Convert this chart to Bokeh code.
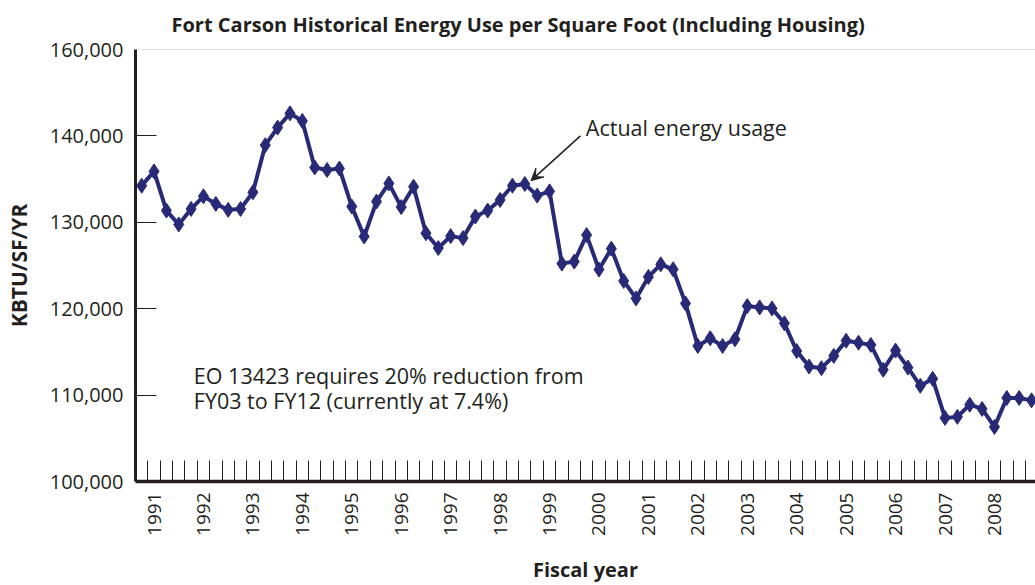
import math
from bokeh.plotting import figure
from bokeh.models import Range1d, FixedTicker, Label, Arrow, VeeHead, Span
from bokeh.embed import file_html
from bokeh.resources import INLINE

TEXT = "#231f20"
LINE = "#282a78"
FONT = "Open Sans"

# Quarterly energy use per square foot, FY1991 Q1 onward (KBTU/SF/YR)
start_year = 1991
kbtu = [
    134240, 135890, 131360, 129750, 131550, 133010, 132130, 131440,
    131550, 133470, 138930, 140960, 142610, 141730, 136350, 136050,
    136230, 131820, 128360, 132400, 134500, 131760, 134120, 128740,
    127020, 128400, 128170, 130670, 131360, 132590, 134240, 134440,
    133090, 133580, 125220, 125450, 128520, 124530, 126950, 123210,
    121190, 123680, 125140, 124560, 120610, 115690, 116580, 115690,
    116460, 120300, 120150, 120030, 118310, 115100, 113310, 113120,
    114540, 116300, 116070, 115810, 112930, 115150, 113190, 111080,
    111890, 107360, 107480, 108890, 108400, 106320, 109670, 109670,
    109390,
]
years = list(range(1991, 2009))
y_ticks = [100000, 110000, 120000, 130000, 140000, 150000]
y_labels = ["100,000", "110,000", "120,000", "130,000", "140,000", "160,000"]
title_text = "Fort Carson Historical Energy Use per Square Foot (Including Housing)"

x = [start_year + (i + 0.5) / 4 for i in range(len(kbtu))]

p = figure(width=1035, height=585, output_backend="svg", toolbar_location=None,
           x_range=Range1d(1991, 2009.205), y_range=Range1d(100000, 150000),
           min_border_left=135, min_border_right=0, min_border_top=48,
           min_border_bottom=103)

p.outline_line_color = None
p.xgrid.visible = False
p.ygrid.visible = False
p.background_fill_color = "white"
p.border_fill_color = "white"

# Title
p.title.text = title_text
p.title.align = "left"
p.title.offset = 36
p.title.text_font = FONT
p.title.text_font_size = "20px"
p.title.text_font_style = "bold"
p.title.text_color = TEXT
p.title.vertical_align = "top"
p.title.standoff = 20

# X axis
xa = p.xaxis[0]
label_pos = [yr + 0.375 for yr in years]
xa.ticker = FixedTicker(ticks=label_pos,
                        minor_ticks=[start_year + q / 4 for q in range(1, 73)])
xa.major_label_overrides = {pos: str(yr) for pos, yr in zip(label_pos, years)}
xa.axis_line_width = 3.5
xa.axis_line_color = TEXT
xa.major_tick_in = 0
xa.major_tick_out = 0
xa.minor_tick_in = 21
xa.minor_tick_out = 0
xa.minor_tick_line_color = TEXT
xa.minor_tick_line_width = 1
xa.major_label_orientation = math.pi / 2
xa.major_label_standoff = 11
xa.major_label_text_font = FONT
xa.major_label_text_font_size = "19px"
xa.major_label_text_color = TEXT
xa.axis_label = "Fiscal year"
xa.axis_label_text_font = FONT
xa.axis_label_text_font_size = "20px"
xa.axis_label_text_font_style = "bold"
xa.axis_label_text_color = TEXT
xa.axis_label_standoff = 17

# Y axis
ya = p.yaxis[0]
ya.ticker = FixedTicker(ticks=y_ticks, minor_ticks=y_ticks[1:-1])
ya.major_label_overrides = dict(zip(y_ticks, y_labels))
ya.axis_line_width = 3
ya.axis_line_color = TEXT
ya.major_tick_in = 0
ya.major_tick_out = 0
ya.minor_tick_in = 21
ya.minor_tick_out = 0
ya.minor_tick_line_color = TEXT
ya.minor_tick_line_width = 1
ya.major_label_standoff = 12
ya.major_label_text_font = FONT
ya.major_label_text_font_size = "20px"
ya.major_label_text_color = TEXT
ya.axis_label = "KBTU/SF/YR"
ya.axis_label_text_font = FONT
ya.axis_label_text_font_size = "21px"
ya.axis_label_text_font_style = "bold"
ya.axis_label_text_color = TEXT
ya.axis_label_standoff = 14

# Top border line
p.add_layout(Span(location=150000, dimension="width", line_color="#8a8a8a",
                  line_width=1, line_dash="1 1"))

# Data
p.line(x, kbtu, line_width=4, line_color=LINE, line_join="round")
p.scatter(x, kbtu, marker="diamond", size=15, fill_color=LINE, line_color=LINE,
          line_width=1)

# Annotations
p.add_layout(Label(x=2000.11, y=141030, text="Actual energy usage",
                   text_font=FONT, text_font_size="21.5px", text_color=TEXT,
                   text_baseline="alphabetic"))
p.add_layout(Arrow(end=VeeHead(size=12, fill_color=TEXT, line_color=TEXT),
                   x_start=2000.0, y_start=140000, x_end=1999.0, y_end=134820,
                   line_color=TEXT, line_width=1.5))
p.add_layout(Label(x=1992.18, y=112300, text="EO 13423 requires 20% reduction from",
                   text_font=FONT, text_font_size="21.5px", text_color=TEXT,
                   text_baseline="alphabetic"))
p.add_layout(Label(x=1992.18, y=109420, text="FY03 to FY12 (currently at 7.4%)",
                   text_font=FONT, text_font_size="21.5px", text_color=TEXT,
                   text_baseline="alphabetic"))

open("out.html", "w").write(file_html(p, INLINE))
